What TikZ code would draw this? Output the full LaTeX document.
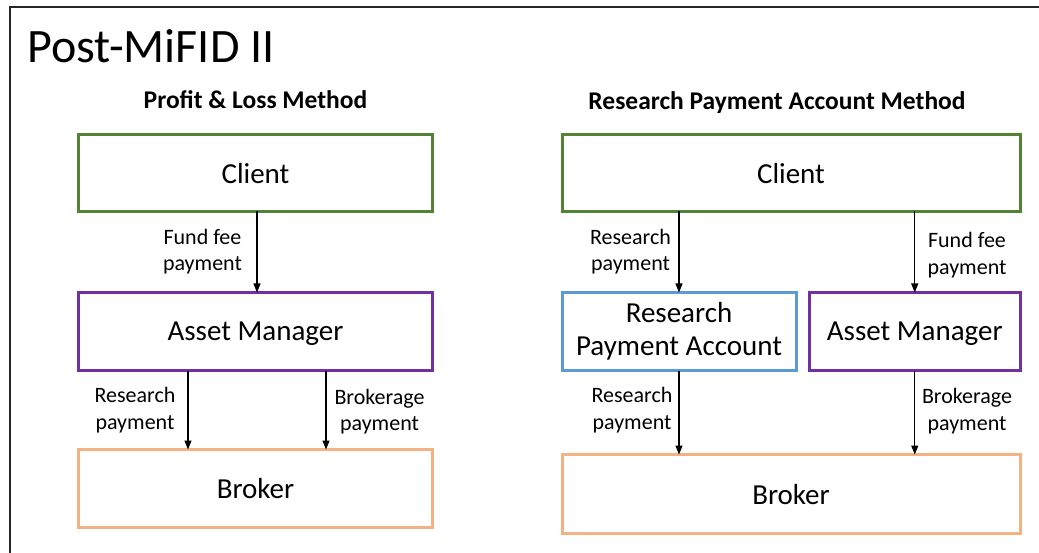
\documentclass[tikz,border=0pt]{standalone}
\usepackage{fontspec}
\setmainfont{Carlito}
\usetikzlibrary{arrows.meta}
\definecolor{cgreen}{HTML}{548235}
\definecolor{cpurple}{HTML}{7030A0}
\definecolor{cblue}{HTML}{5B9BD5}
\definecolor{corange}{HTML}{F4B183}
\tikzset{
  box/.style={draw=#1, line width=3pt, rectangle, inner sep=0pt, outer sep=0pt,
    align=center, font=\fontsize{29}{33}\selectfont, fill=white},
  flatbox/.style={box=#1, text depth=0pt},
  flow/.style={line width=1.3pt, -{Triangle[length=9pt,width=7pt]}},
  lbl/.style={align=center, font=\fontsize{22}{26.5}\selectfont, inner sep=0pt},
  heading/.style={anchor=base, font=\fontsize{25.5}{30}\bfseries\selectfont, inner sep=0pt},
}
\begin{document}
\begin{tikzpicture}[x=1pt, y=-1pt]
\useasboundingbox (0,0) rectangle (1039,553);
% outer frame (left and top edges)
\draw[line width=1.5pt, black!85] (10,553) -- (10,7) -- (1039,7);
\node[anchor=base west, font=\fontsize{48}{56}\selectfont, inner sep=0pt] (title) at (27,62.5) {Post-MiFID II};

% ---- Profit & Loss method ----
\node[heading] (h1) at (255.5,109) {Profit \& Loss Method};
\node[flatbox=cgreen, minimum width=354pt, minimum height=77pt] (lc) at (255.5,173) {Client};
\node[flatbox=cpurple, minimum width=354pt, minimum height=78pt] (lam) at (255.5,331.5) {Asset Manager};
\node[flatbox=corange, minimum width=354pt, minimum height=78pt] (lb) at (255.5,488.5) {Broker};

\draw[flow] ([xshift=1.5pt]lc.south) -- ([xshift=1.5pt]lam.north);
\draw[flow] ([xshift=-67.5pt]lam.south) -- ([xshift=-67.5pt]lb.north);
\draw[flow] ([xshift=70.5pt]lam.south) -- ([xshift=70.5pt]lb.north);
\node[lbl] (l1) at (202.5,251.5) {Fund fee\\payment};
\node[lbl] (l2) at (135,410) {Research\\payment};
\node[lbl] (l3) at (379.5,411.5) {Brokerage\\payment};

% ---- Research Payment Account method ----
\node[heading] (h2) at (777,109.5) {Research Payment Account Method};
\node[flatbox=cgreen, minimum width=458pt, minimum height=77pt] (rc) at (791,173) {Client};
\node[box=cblue, minimum width=234pt, minimum height=78pt] (rpa) at (679,331.5) {Research\\Payment Account};
\node[flatbox=cpurple, minimum width=210.5pt, minimum height=78pt] (ram) at (914.75,331.5) {Asset Manager};
\node[flatbox=corange, minimum width=458pt, minimum height=79pt] (rb) at (791,494) {Broker};

\draw[flow] (rpa.north |- rc.south) -- (rpa.north);
\draw[flow] (ram.north |- rc.south) -- (ram.north);
\draw[flow] (rpa.south) -- (rpa.south |- rb.north);
\draw[flow] (ram.south) -- (ram.south |- rb.north);
\node[lbl] (r1) at (630.5,251.5) {Research\\payment};
\node[lbl] (r2) at (967,255) {Fund fee\\payment};
\node[lbl] (r3) at (632,410) {Research\\payment};
\node[lbl] (r4) at (967,411) {Brokerage\\payment};
\end{tikzpicture}
\end{document}
